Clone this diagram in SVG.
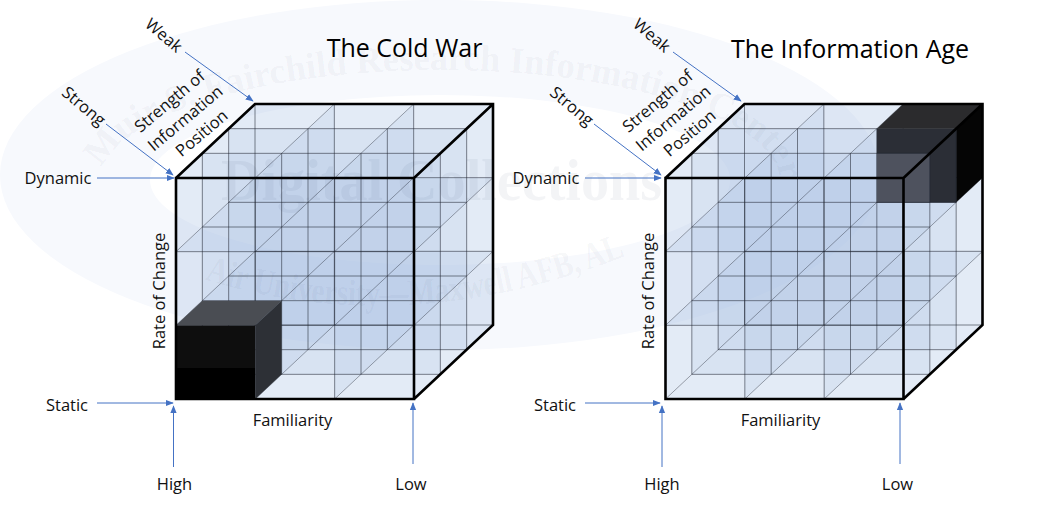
<svg xmlns="http://www.w3.org/2000/svg" width="1053" height="507" viewBox="0 0 1053 507">
  <style>
    .lbl { font-family: "Open Sans", "Liberation Sans", sans-serif; font-size: 16.5px; fill: #111; }
    .ttl { font-family: "Open Sans", "Liberation Sans", sans-serif; font-size: 25px; fill: #000; }
    .wm { font-family: "Liberation Serif", serif; font-weight: bold; fill: #1a2a4a; fill-opacity: 0.05; }
    .pl { fill: #a9bde0; fill-opacity: 0.17; stroke: none; }
    .grid { fill: none; stroke: #1e2430; stroke-width: 0.9; stroke-opacity: 0.62; }
    .diag { fill: none; stroke: #1e2430; stroke-width: 0.8; stroke-opacity: 0.5; }
    .thick { fill: none; stroke: #000; stroke-width: 2.6; stroke-linejoin: miter; }
    .arr { fill: none; stroke: #4472c4; stroke-width: 1; marker-end: url(#ah); }
  </style>
  <defs>
    <marker id="ah" viewBox="0 0 10 10" refX="9" refY="5" markerWidth="8" markerHeight="8" orient="auto" markerUnits="userSpaceOnUse">
      <path d="M0,1 L10,5 L0,9 Z" fill="#4472c4"/>
    </marker>
    <path id="arcTop" d="M100,182 A340,112 0 0 1 780,182"/>
    <path id="arcBot" d="M200,278 Q410,345 640,250"/>
    <g id="fills">
      <rect class="pl" x="0" y="0" width="238" height="221"/>
      <rect class="pl" x="26.33" y="-24.67" width="238" height="221"/>
      <rect class="pl" x="52.67" y="-49.33" width="238" height="221"/>
      <rect class="pl" x="79" y="-74" width="238" height="221"/>
      <path class="pl" d="M0,0h238l79,-74h-238z"/>
      <path class="pl" d="M0,73.67h238l79,-74h-238z"/>
      <path class="pl" d="M0,147.33h238l79,-74h-238z"/>
      <path class="pl" d="M0,221h238l79,-74h-238z"/>
      <path class="pl" d="M0,0v221l79,-74v-221z"/>
      <path class="pl" d="M79.33,0v221l79,-74v-221z"/>
      <path class="pl" d="M158.67,0v221l79,-74v-221z"/>
      <path class="pl" d="M238,0v221l79,-74v-221z"/>
    </g>
    <g id="grid">
      <path class="grid" d="M0,0h238M0,73.67h238M0,147.33h238M0,221h238M0,0v221M79.33,0v221M158.67,0v221M238,0v221
        M26.33,-24.67h238M26.33,49h238M26.33,122.67h238M26.33,196.33h238M26.33,-24.67v221M105.67,-24.67v221M185,-24.67v221M264.33,-24.67v221
        M52.67,-49.33h238M52.67,24.33h238M52.67,98h238M52.67,171.67h238M52.67,-49.33v221M132,-49.33v221M211.33,-49.33v221M290.67,-49.33v221
        M79,-74h238M79,-0.33h238M79,73.33h238M79,147h238M79,-74v221M158.33,-74v221M237.67,-74v221M317,-74v221"/>
      <path class="diag" d="M0,0l79,-74M79.33,0l79,-74M158.67,0l79,-74M238,0l79,-74
        M0,73.67l79,-74M79.33,73.67l79,-74M158.67,73.67l79,-74M238,73.67l79,-74
        M0,147.33l79,-74M79.33,147.33l79,-74M158.67,147.33l79,-74M238,147.33l79,-74
        M0,221l79,-74M79.33,221l79,-74M158.67,221l79,-74M238,221l79,-74"/>
    </g>
    <path id="outline" class="thick" d="M0,0H238V221H0Z M0,0L79,-74H317V147L238,221 M238,0L317,-74"/>
  </defs>

  <rect width="1053" height="507" fill="#fff"/>

  <g id="watermark">
    <path d="M0,175 A440,175 0 1 1 880,175 A440,175 0 1 1 0,175 Z M150,180 A290,85 0 1 0 730,180 A290,85 0 1 0 150,180 Z" fill="#f7f9fd" fill-rule="evenodd"/>
  </g>

  <g id="cube-cold-war" transform="translate(176,178)">
    <use href="#fills"/>
    <use href="#grid"/>
    <g id="black-cube">
      <rect x="0" y="147.33" width="79.33" height="42.67" fill="#0e0e0e"/>
      <rect x="0" y="190" width="79.33" height="31" fill="#000"/>
      <path d="M0,147.33H79.33L105.67,122.67H26.33Z" fill="#4a4d53"/>
      <path d="M79.33,147.33L105.67,122.67V196.33L79.33,221Z" fill="#2d3036"/>
    </g>
    <use href="#outline"/>
  </g>

  <g id="cube-information-age" transform="translate(665.5,178)">
    <use href="#fills"/>
    <use href="#grid"/>
    <g id="dark-cube">
      <path d="M211.33,-49.33H290.67L317,-74H237.67Z" fill="#2b2b2d"/>
      <rect x="211.33" y="-49.33" width="79.34" height="73.66" fill="#2b2e36"/>
      <rect x="211.33" y="-24.67" width="53" height="49" fill="#4e525e"/>
      <path d="M290.67,-49.33L317,-74V-0.33L290.67,24.33Z" fill="#050505"/>
      <path class="grid" d="M264.33,-24.67V24.33M211.33,-24.67H264.33M211.33,24.33H290.67M290.67,-49.33V24.33"/>
    </g>
    <use href="#outline"/>
  </g>

  <g id="watermark-text">
    <text class="wm" font-size="37"><textPath href="#arcTop" startOffset="14" textLength="740" lengthAdjust="spacingAndGlyphs">Muir S. Fairchild Research Information Center</textPath></text>
    <text class="wm" x="221" y="200" font-size="60" textLength="441" lengthAdjust="spacingAndGlyphs">Digital Collections</text>
    <text class="wm" font-size="37"><textPath href="#arcBot" startOffset="5" textLength="430" lengthAdjust="spacingAndGlyphs">Air University—Maxwell AFB, AL</textPath></text>
  </g>

  <g id="connectors">
    <path class="arr" d="M97,178H174"/>
    <path class="arr" d="M97,403H173"/>
    <path class="arr" d="M173.5,467V406"/>
    <path class="arr" d="M413,464V403"/>
    <path class="arr" d="M106,124L173,175"/>
    <path class="arr" d="M185,52L253,101"/>
    <path class="arr" d="M585,178H661"/>
    <path class="arr" d="M585,403H660"/>
    <path class="arr" d="M662,467V406"/>
    <path class="arr" d="M900,464V403"/>
    <path class="arr" d="M594,124L661,175"/>
    <path class="arr" d="M673,52L741,101"/>
  </g>

  <g id="labels-cold-war">
    <text class="ttl" x="404.5" y="57" text-anchor="middle">The Cold War</text>
    <text class="lbl" x="58" y="184" text-anchor="middle">Dynamic</text>
    <text class="lbl" x="67" y="411" text-anchor="middle">Static</text>
    <text class="lbl" x="174.5" y="490" text-anchor="middle">High</text>
    <text class="lbl" x="411" y="490" text-anchor="middle">Low</text>
    <text class="lbl" x="292.5" y="426" text-anchor="middle">Familiarity</text>
    <text class="lbl" transform="translate(164.5,291) rotate(-90)" text-anchor="middle">Rate of Change</text>
    <text class="lbl" transform="translate(164,35) rotate(40)" y="6" text-anchor="middle">Weak</text>
    <text class="lbl" transform="translate(84,106) rotate(40)" y="6" text-anchor="middle">Strong</text>
    <g transform="translate(185,118) rotate(-40)">
      <text class="lbl" x="-1" y="-17" text-anchor="middle">Strength of</text>
      <text class="lbl" x="0" y="6" text-anchor="middle">Information</text>
      <text class="lbl" x="3" y="28" text-anchor="middle">Position</text>
    </g>
  </g>

  <g id="labels-information-age">
    <text class="ttl" x="850" y="58" text-anchor="middle">The Information Age</text>
    <text class="lbl" x="546" y="184" text-anchor="middle">Dynamic</text>
    <text class="lbl" x="555" y="411" text-anchor="middle">Static</text>
    <text class="lbl" x="662" y="490" text-anchor="middle">High</text>
    <text class="lbl" x="897.5" y="490" text-anchor="middle">Low</text>
    <text class="lbl" x="780.5" y="426" text-anchor="middle">Familiarity</text>
    <text class="lbl" transform="translate(654,291) rotate(-90)" text-anchor="middle">Rate of Change</text>
    <text class="lbl" transform="translate(652,35) rotate(40)" y="6" text-anchor="middle">Weak</text>
    <text class="lbl" transform="translate(572,106) rotate(40)" y="6" text-anchor="middle">Strong</text>
    <g transform="translate(673,118) rotate(-40)">
      <text class="lbl" x="-1" y="-17" text-anchor="middle">Strength of</text>
      <text class="lbl" x="0" y="6" text-anchor="middle">Information</text>
      <text class="lbl" x="3" y="28" text-anchor="middle">Position</text>
    </g>
  </g>
</svg>
